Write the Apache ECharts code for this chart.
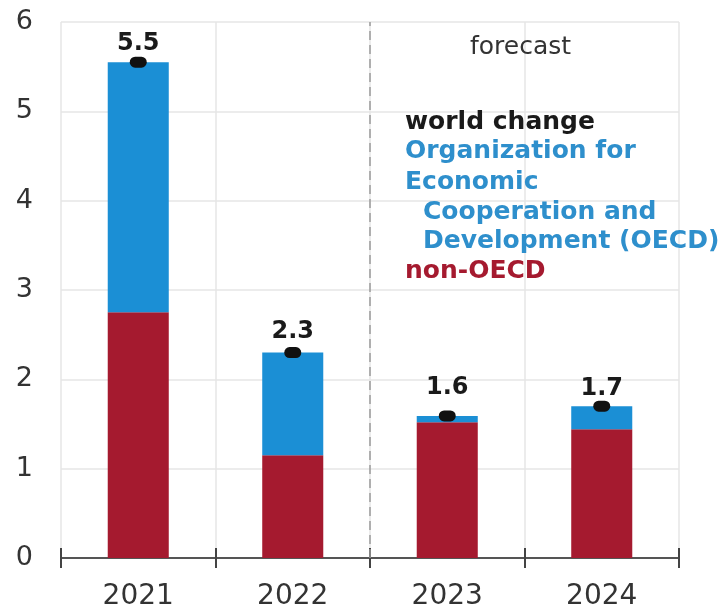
<!DOCTYPE html>
<html>
<head>
<meta charset="utf-8">
<script src="https://cdn.jsdelivr.net/npm/echarts@6/dist/echarts.min.js"></script>
<style>html,body{margin:0;padding:0;background:#fff}#c{width:718px;height:611px}</style>
</head>
<body>
<div id="c"></div>
<script>
const categories = ['2021', '2022', '2023', '2024'];
const nonOECD = [2.75, 1.15, 1.52, 1.44];
const oecd = [2.80, 1.15, 0.07, 0.26];
const world = [5.55, 2.30, 1.59, 1.70];
const worldLabels = ['5.5', '2.3', '1.6', '1.7'];
const yTicks = [0, 1, 2, 3, 4, 5, 6];

// label gaps above each world marker (style only)
const labelGap = [1, 3, 11, 0];

const RED = '#a51a2f';
const BLUE = '#1b8fd5';
const FONT = 'DejaVu Sans';

const worldData = world.map((v, i) => ({ value: v, label: { distance: labelGap[i] } }));

const chart = echarts.init(document.getElementById('c'));
chart.setOption({
  animation: false,
  grid: { left: 61, right: 39, top: 22, bottom: 49 },
  xAxis: [
    {
      type: 'category', data: categories,
      axisLine: { lineStyle: { color: '#555', width: 2 } },
      axisTick: { show: true, length: 10, lineStyle: { color: '#444', width: 2 } },
      axisLabel: { color: '#333', fontFamily: FONT, fontSize: 28, margin: 25 },
      splitLine: { show: true, lineStyle: { color: '#e6e6e6', width: 1.5 } }
    },
    {
      type: 'value', position: 'bottom', min: 0, max: 4, interval: 1,
      axisLine: { show: false },
      axisTick: { show: true, inside: true, length: 10, lineStyle: { color: '#444', width: 2 } },
      axisLabel: { show: false },
      splitLine: { show: false }
    }
  ],
  yAxis: {
    type: 'value', min: yTicks[0], max: yTicks[yTicks.length - 1], interval: 1,
    axisLine: { show: false }, axisTick: { show: false },
    axisLabel: { color: '#333', fontFamily: FONT, fontSize: 27, margin: 28 },
    splitLine: { lineStyle: { color: '#e6e6e6', width: 1.5 } }
  },
  series: [
    {
      name: 'non-OECD', type: 'bar', stack: 't', data: nonOECD, barWidth: '39.5%',
      itemStyle: { color: RED }
    },
    {
      name: 'OECD', type: 'bar', stack: 't', data: oecd, barWidth: '39.5%',
      itemStyle: { color: BLUE }
    },
    {
      name: 'world change', type: 'scatter', data: worldData, z: 5,
      symbol: 'path://M5,0 H11 A5,5 0 0 1 11,10 H5 A5,5 0 0 1 5,0 Z',
      symbolSize: [17, 11],
      itemStyle: { color: '#111', opacity: 1 },
      label: {
        show: true, position: 'top', distance: 4,
        formatter: p => worldLabels[p.dataIndex],
        color: '#1a1a1a', fontFamily: FONT, fontWeight: 'bold', fontSize: 24
      }
    },
    {
      type: 'scatter', xAxisIndex: 1, data: [[2, 0]], symbolSize: 0, silent: true,
      markLine: {
        silent: true, symbol: 'none', label: { show: false },
        lineStyle: { color: '#9a9a9a', type: [9, 5], width: 1.5 },
        data: [{ xAxis: 2 }]
      }
    }
  ],
  graphic: [
    { type: 'text', z: 100, left: 470, top: 35, style: { text: 'forecast', fill: '#333', font: '25px "DejaVu Sans"' } },
    { type: 'text', z: 100, left: 405, top: 110, style: { text: 'world change', fill: '#1a1a1a', font: 'bold 25px "DejaVu Sans"' } },
    { type: 'text', z: 100, left: 405, top: 139, style: { text: 'Organization for', fill: '#2e8fcc', font: 'bold 25px "DejaVu Sans"' } },
    { type: 'text', z: 100, left: 405, top: 170, style: { text: 'Economic', fill: '#2e8fcc', font: 'bold 25px "DejaVu Sans"' } },
    { type: 'text', z: 100, left: 423, top: 200, style: { text: 'Cooperation and', fill: '#2e8fcc', font: 'bold 25px "DejaVu Sans"' } },
    { type: 'text', z: 100, left: 423, top: 229, style: { text: 'Development (OECD)', fill: '#2e8fcc', font: 'bold 25px "DejaVu Sans"' } },
    { type: 'text', z: 100, left: 405, top: 259, style: { text: 'non-OECD', fill: RED, font: 'bold 25px "DejaVu Sans"' } }
  ]
});
</script>
</body>
</html>
